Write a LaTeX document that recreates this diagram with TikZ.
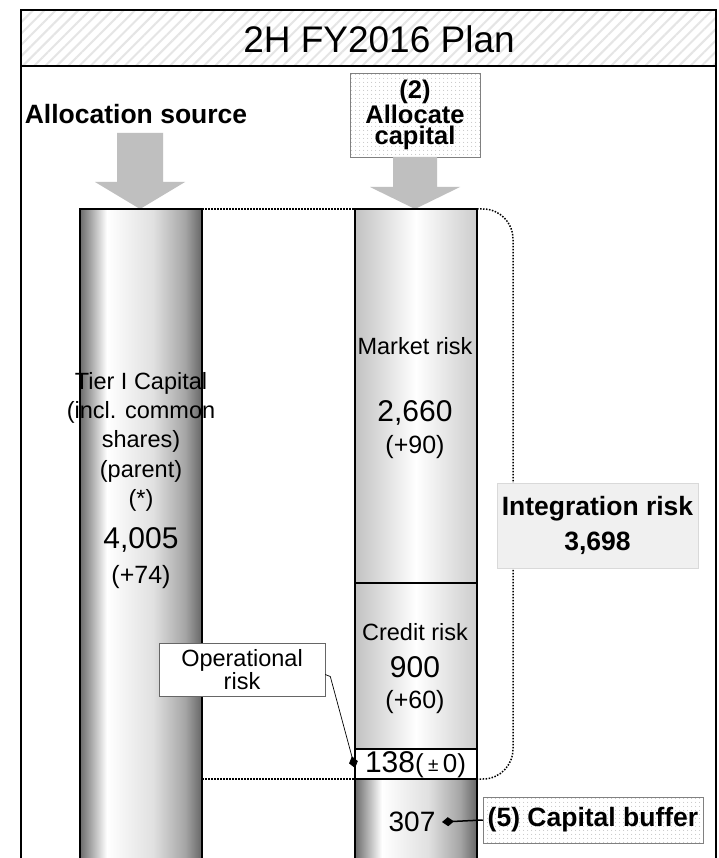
\documentclass[tikz,border=0pt]{standalone}
\usepackage{fontspec}
\setmainfont{Liberation Sans}
\usetikzlibrary{arrows.meta, patterns.meta}

% shadings for the bars (path is mapped to 25bp..75bp)
\pgfdeclarehorizontalshading{darkbar}{100bp}{color(0bp)=(black!58); color(25bp)=(black!58); color(36bp)=(white); color(55bp)=(black!12); color(68bp)=(black!35); color(75bp)=(black!60); color(100bp)=(black!60)}
\pgfdeclarehorizontalshading{lightbar}{100bp}{color(0bp)=(black!24); color(25bp)=(black!24); color(50bp)=(white); color(75bp)=(black!20); color(100bp)=(black!20)}

\tikzset{
    x=1pt, y=-1pt, % pixel like coordinates, y going down
    frame/.style={line width=1.8pt},
    segment/.style={draw=black, line width=1.8pt},
    bigarrow/.style={fill=black!25, draw=none},
    bracket/.style={line width=1.5pt, dash pattern=on 1.5pt off 1.5pt},
    txt/.style={inner sep=0pt, align=center, font=\fontsize{23.5}{29.3}\selectfont},
    num/.style={inner sep=0pt, font=\fontsize{30}{30}\selectfont},
    delta/.style={inner sep=0pt, font=\fontsize{25}{25}\selectfont},
    dotbox/.style={draw=black!50, line width=0.5pt, fill=white, pattern={Dots[distance=4pt, radius=0.55pt]}, pattern color=black!35, align=center, inner sep=0pt, font=\bfseries\fontsize{25.5}{20.5}\selectfont},
    calloutbox/.style={draw=black!60, fill=white, line width=0.6pt, align=center, inner sep=0pt, font=\fontsize{23.5}{20}\selectfont},
    sumbox/.style={draw=black!15, fill=black!6, line width=0.5pt, align=center, inner sep=0pt, font=\bfseries\fontsize{26.5}{35}\selectfont}
}

\begin{document}
\begin{tikzpicture}
    \clip (0,0) rectangle (718,858);
    \fill[white] (0,0) rectangle (718,858);

    % Title band and frame
    \fill[pattern={Lines[angle=45, distance=8pt, line width=2pt]}, pattern color=black!10] (21,10) rectangle (716,66);
    \draw[frame] (21,870) -- (21,10) -- (716,10) -- (716,870);
    \draw[frame] (21,66) -- (716,66);
    \node[inner sep=0pt, font=\fontsize{37}{37}\selectfont] (Title) at (379,39.5) {2H FY2016 Plan};

    % Headings
    \node[inner sep=0pt, font=\bfseries\fontsize{26.5}{26.5}\selectfont] (Source) at (136,113.7) {Allocation source};
    \node[dotbox, minimum width=130pt, minimum height=84pt] (Allocate) at (415,115) {(2)\\Allocate\\capital};

    % Big arrows
    \fill[bigarrow] (117,133) -- (163,133) -- (163,182) -- (185,182) -- (140,209) -- (95,182) -- (117,182) -- cycle;
    \fill[bigarrow] (393,157) -- (437,157) -- (437,187) -- (460,187) -- (415,209) -- (370,187) -- (393,187) -- cycle;

    % Left bar
    \shade[shading=darkbar] (80,209) rectangle (202,870);
    \draw[segment] (80,209) rectangle (202,870);

    % Right bar
    \shade[shading=lightbar] (355,209) rectangle (477,749);
    \fill[white] (355,749) rectangle (477,779);
    \shade[shading=darkbar] (355,779) rectangle (477,870);
    \draw[segment] (355,209) rectangle (477,870);
    \draw[segment] (355,583) -- (477,583);
    \draw[segment] (355,749) -- (477,749);
    \draw[segment] (355,779) -- (477,779);

    % Bracket lines
    \draw[bracket] (202,209) -- (355,209);
    \draw[bracket] (202,779) -- (355,779);
    \draw[bracket, rounded corners=30pt] (477,209) -- (513,209) -- (513,779) -- (477,779);

    % Texts in the bars
    \node[txt] (Tier) at (141,441.8) {Tier I Capital\\(incl. common\\shares)\\(parent)\\(*)};
    \node[num] (TierVal) at (141,540) {4,005};
    \node[delta] (TierDelta) at (141,577) {(+74)};

    \node[txt] (Market) at (415,346) {Market risk};
    \node[num] (MarketVal) at (415,413) {2,660};
    \node[delta] (MarketDelta) at (415,447) {(+90)};

    \node[txt] (Credit) at (415,632) {Credit risk};
    \node[num] (CreditVal) at (415,667) {900};
    \node[delta] (CreditDelta) at (415,702) {(+60)};

    \node[inner sep=0pt] (OpVal) at (415.5,765) {\fontsize{30}{30}\selectfont 138\fontsize{26}{26}\selectfont(\,{\fontsize{19}{19}\selectfont\raisebox{1pt}{±}}\,0)};
    \node[num, font=\fontsize{28}{28}\selectfont] (BufVal) at (412,822) {307};

    % Side boxes
    \node[sumbox, minimum width=201pt, minimum height=85pt] (Integ) at (597.5,525.5) {Integration risk\\3,698};
    \node[calloutbox, minimum width=166pt, minimum height=53pt] (OpRisk) at (242,669.5) {Operational\\risk};
    \node[dotbox, minimum width=220pt, minimum height=46pt, font=\bfseries\fontsize{26.5}{26.5}\selectfont] (CapBuf) at (593,820) {(5) Capital buffer};

    % Callout lines
    \coordinate (OpTip) at (355,768);
    \coordinate (BufTip) at (442,822);
    \draw[line width=0.7pt, -{Diamond[length=12pt, width=9pt]}] ([yshift=-5pt]OpRisk.east) -- ++(5,2) -- (OpTip);
    \draw[line width=1.5pt, -{Diamond[length=12pt, width=9pt]}] (CapBuf.west) -- (BufTip);
\end{tikzpicture}
\end{document}
